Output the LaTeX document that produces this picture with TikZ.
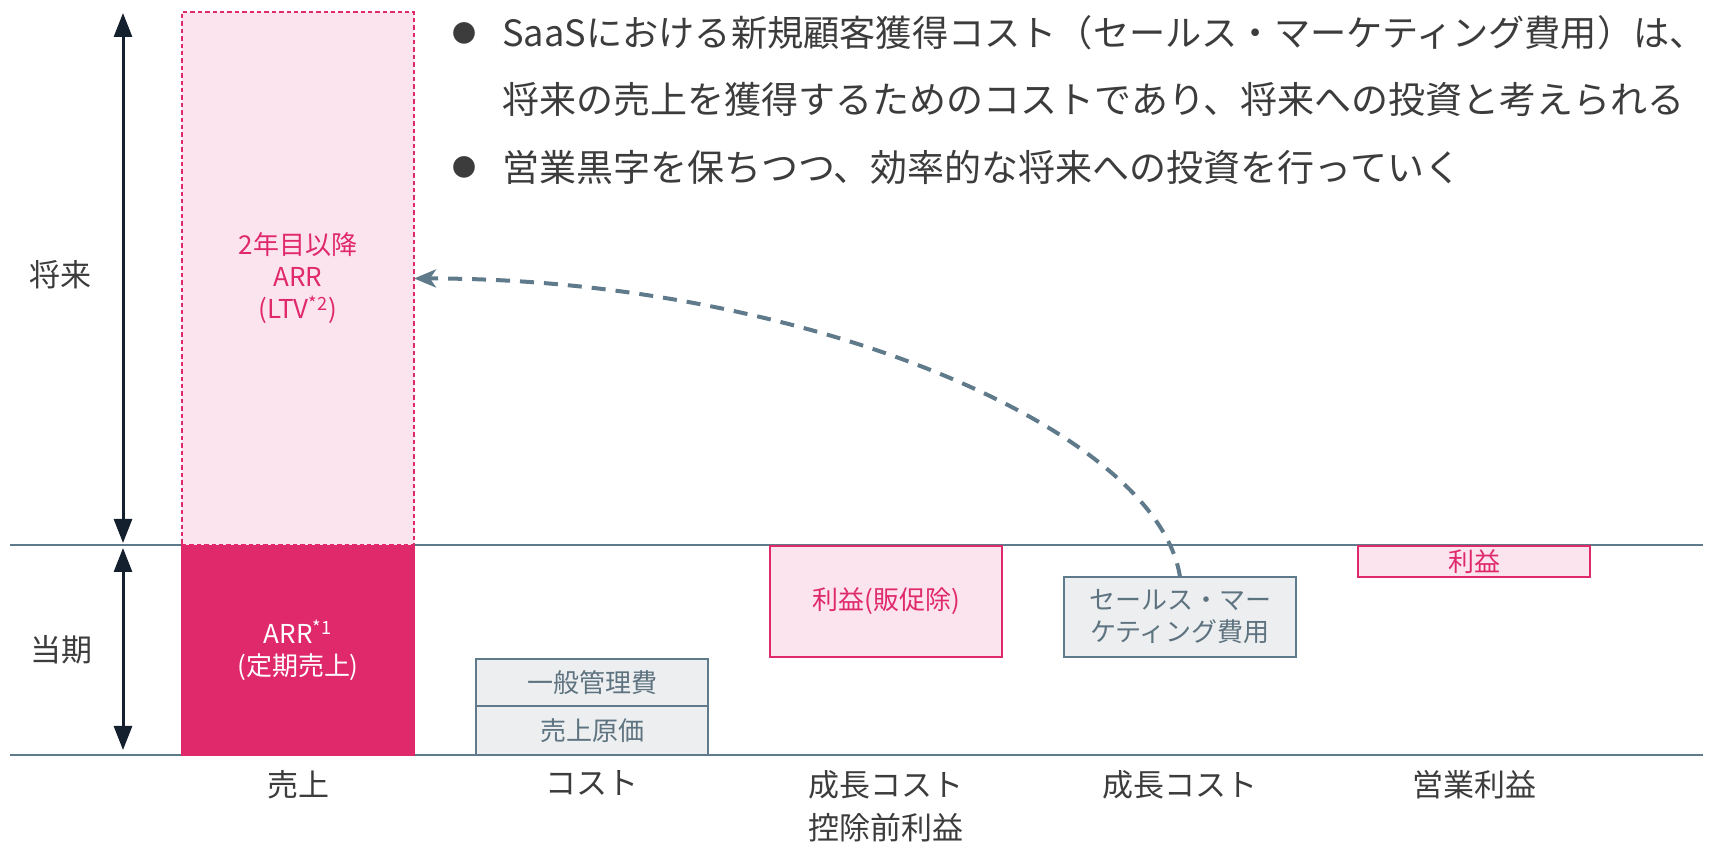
\documentclass[tikz,border=0pt]{standalone}
\usepackage{fontspec}
\setmainfont{Noto Sans CJK JP}
\usetikzlibrary{positioning,arrows.meta}
\definecolor{arrpink}{HTML}{E0296B}
\definecolor{lightpink}{HTML}{FCE4EE}
\definecolor{slate}{HTML}{5F7A8A}
\definecolor{costgray}{HTML}{ECEEF0}
\definecolor{costtext}{HTML}{5E7380}
\definecolor{navy}{HTML}{14202E}
\definecolor{labelgray}{HTML}{3C3C3C}
\tikzset{
    box/.style={rectangle, draw, line width=1pt, minimum width=116pt, inner sep=0pt, outer sep=0pt, align=center, font=\fontsize{13pt}{16pt}\selectfont},
    future_box/.style={box, draw=arrpink, fill=lightpink, text=arrpink, dash pattern=on 2.2pt off 1.5pt, minimum height=266.5pt},
    arr_box/.style={box, draw=arrpink, fill=arrpink, text=white, minimum height=105pt},
    cost_box/.style={box, draw=slate, fill=costgray, text=costtext},
    profit_box/.style={box, draw=arrpink, fill=lightpink, text=arrpink},
    axis_label/.style={font=\fontsize{15.5pt}{21.5pt}\selectfont, text=labelgray, align=center, inner sep=0pt, anchor=north},
    side_label/.style={font=\fontsize{15.5pt}{21.5pt}\selectfont, text=labelgray, inner sep=0pt},
    bullet_dot/.style={font=\fontsize{12pt}{12pt}\selectfont, text=labelgray, inner sep=0pt},
    bullet_text/.style={font=\fontsize{18.5pt}{33.5pt}\selectfont, text=labelgray, align=left, inner sep=0pt, anchor=west},
    period_rule/.style={draw=slate, line width=1pt},
    span_arrow/.style={navy, line width=1.5pt, {Triangle[width=9pt,length=12pt]}-{Triangle[width=9pt,length=12pt]}},
    invest/.style={slate, line width=2pt, dash pattern=on 7pt off 5pt, -{Stealth[length=11pt,width=9pt,inset=3pt]}},
}

\begin{document}
\begin{tikzpicture}[x=0.5pt, y=-0.5pt]
    \useasboundingbox (0,0) rectangle (1721,844);

    % Period rules
    \coordinate (top_l) at (10,545);
    \coordinate (top_r) at (1703,545);
    \coordinate (bot_l) at (10,755);
    \coordinate (bot_r) at (1703,755);
    \draw[period_rule] (top_l) -- (top_r);
    \draw[period_rule] (bot_l) -- (bot_r);

    % Sales column
    \node[arr_box, anchor=south west] (arr) at (182,755) {ARR\textsuperscript{*1}\\(定期売上)};
    \node[future_box, above=0pt of arr] (ltv) {2年目以降\\ARR\\(LTV\textsuperscript{*2})};

    % Cost column
    \node[cost_box, minimum height=24.5pt, anchor=south west] (cogs) at (476,755) {売上原価};
    \node[cost_box, minimum height=23.5pt, above=0pt of cogs] (sga) {一般管理費};

    % Growth cost columns
    \node[profit_box, minimum height=55.5pt, anchor=north west] (gross) at (770,546) {利益(販促除)};
    \node[cost_box, minimum height=40pt, anchor=north west] (smm) at (1064,577) {セールス・マー\\ケティング費用};
    \node[profit_box, minimum height=15.5pt, anchor=north west] (op) at (1358,546) {利益};

    % Column labels
    \node[axis_label] (l_sales) at (298,770) {売上};
    \node[axis_label] (l_cost) at (592,770) {コスト};
    \node[axis_label] (l_gross) at (886,770) {成長コスト\\控除前利益};
    \node[axis_label] (l_smm) at (1180,770) {成長コスト};
    \node[axis_label] (l_op) at (1474,770) {営業利益};

    % Period spans
    \node[side_label] (l_future) at (61,275) {将来};
    \node[side_label] (l_now) at (62,650) {当期};
    \coordinate (fut_top) at (123,13);
    \coordinate (fut_bot) at (123,543);
    \coordinate (now_top) at (123,548);
    \coordinate (now_bot) at (123,750);
    \draw[span_arrow] (fut_top) -- (fut_bot);
    \draw[span_arrow] (now_top) -- (now_bot);

    % Investment arrow
    \draw[invest] (smm.north) .. controls (1157,427) and (797,278) .. (ltv.east);

    % Bullets
    \node[bullet_dot] (dot1) at (464,33) {●};
    \node[bullet_text] (item1) at (502,66.5) {{\fontsize{18.1pt}{33.5pt}\selectfont SaaSにおける新規顧客獲得コスト（セールス・マーケティング費用）は、}\\将来の売上を獲得するためのコストであり、将来への投資と考えられる};
    \node[bullet_dot] (dot2) at (464,167) {●};
    \node[bullet_text] (item2) at (502,167) {営業黒字を保ちつつ、効率的な将来への投資を行っていく};
\end{tikzpicture}
\end{document}
